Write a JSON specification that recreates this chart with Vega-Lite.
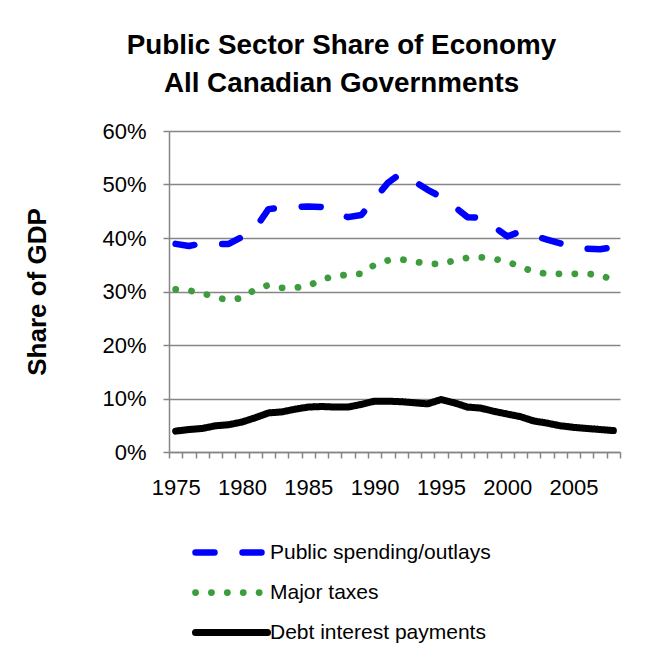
{
  "$schema": "https://vega.github.io/schema/vega-lite/v6.json",
  "width": 451,
  "height": 321,
  "autosize": {"type": "none"},
  "padding": {"left": 169, "top": 131, "right": 50, "bottom": 204},
  "background": "white",
  "title": {
    "text": ["Public Sector Share of Economy", "All Canadian Governments"],
    "font": "Liberation Sans",
    "fontSize": 27.8,
    "fontWeight": "bold",
    "color": "black",
    "lineHeight": 38,
    "anchor": "middle",
    "frame": "group",
    "dx": -53,
    "offset": 22
  },
  "data": {
    "values": [
      {"year": 1975, "Public spending/outlays": 38.9, "Major taxes": 30.4, "Debt interest payments": 3.9},
      {"year": 1976, "Public spending/outlays": 38.5, "Major taxes": 30.2, "Debt interest payments": 4.2},
      {"year": 1977, "Public spending/outlays": 39.0, "Major taxes": 29.7, "Debt interest payments": 4.4},
      {"year": 1978, "Public spending/outlays": 38.9, "Major taxes": 28.9, "Debt interest payments": 4.9},
      {"year": 1979, "Public spending/outlays": 38.9, "Major taxes": 28.4, "Debt interest payments": 5.1},
      {"year": 1980, "Public spending/outlays": 40.2, "Major taxes": 28.8, "Debt interest payments": 5.6},
      {"year": 1981, "Public spending/outlays": 41.8, "Major taxes": 30.4, "Debt interest payments": 6.4},
      {"year": 1982, "Public spending/outlays": 45.4, "Major taxes": 31.2, "Debt interest payments": 7.3},
      {"year": 1983, "Public spending/outlays": 45.7, "Major taxes": 30.7, "Debt interest payments": 7.5},
      {"year": 1984, "Public spending/outlays": 45.8, "Major taxes": 30.7, "Debt interest payments": 8.0},
      {"year": 1985, "Public spending/outlays": 45.9, "Major taxes": 31.0, "Debt interest payments": 8.4},
      {"year": 1986, "Public spending/outlays": 45.8, "Major taxes": 32.3, "Debt interest payments": 8.5},
      {"year": 1987, "Public spending/outlays": 44.7, "Major taxes": 32.8, "Debt interest payments": 8.4},
      {"year": 1988, "Public spending/outlays": 43.9, "Major taxes": 33.2, "Debt interest payments": 8.4},
      {"year": 1989, "Public spending/outlays": 44.3, "Major taxes": 33.3, "Debt interest payments": 8.9},
      {"year": 1990, "Public spending/outlays": 47.3, "Major taxes": 35.0, "Debt interest payments": 9.5},
      {"year": 1991, "Public spending/outlays": 50.3, "Major taxes": 35.8, "Debt interest payments": 9.5},
      {"year": 1992, "Public spending/outlays": 52.1, "Major taxes": 36.0, "Debt interest payments": 9.4},
      {"year": 1993, "Public spending/outlays": 50.6, "Major taxes": 35.6, "Debt interest payments": 9.2},
      {"year": 1994, "Public spending/outlays": 49.0, "Major taxes": 35.2, "Debt interest payments": 9.0},
      {"year": 1995, "Public spending/outlays": 47.7, "Major taxes": 35.1, "Debt interest payments": 9.8},
      {"year": 1996, "Public spending/outlays": 45.9, "Major taxes": 35.8, "Debt interest payments": 9.2},
      {"year": 1997, "Public spending/outlays": 43.9, "Major taxes": 36.3, "Debt interest payments": 8.4},
      {"year": 1998, "Public spending/outlays": 43.8, "Major taxes": 36.4, "Debt interest payments": 8.2},
      {"year": 1999, "Public spending/outlays": 42.1, "Major taxes": 36.1, "Debt interest payments": 7.6},
      {"year": 2000, "Public spending/outlays": 40.3, "Major taxes": 35.6, "Debt interest payments": 7.1},
      {"year": 2001, "Public spending/outlays": 41.2, "Major taxes": 34.6, "Debt interest payments": 6.6},
      {"year": 2002, "Public spending/outlays": 40.4, "Major taxes": 33.7, "Debt interest payments": 5.8},
      {"year": 2003, "Public spending/outlays": 39.7, "Major taxes": 33.3, "Debt interest payments": 5.4},
      {"year": 2004, "Public spending/outlays": 39.0, "Major taxes": 33.3, "Debt interest payments": 4.9},
      {"year": 2005, "Public spending/outlays": 38.1, "Major taxes": 33.3, "Debt interest payments": 4.6},
      {"year": 2006, "Public spending/outlays": 38.0, "Major taxes": 33.3, "Debt interest payments": 4.4},
      {"year": 2007, "Public spending/outlays": 37.9, "Major taxes": 33.1, "Debt interest payments": 4.2},
      {"year": 2008, "Public spending/outlays": 38.3, "Major taxes": 32.1, "Debt interest payments": 4.0}
    ]
  },
  "transform": [
    {"fold": ["Public spending/outlays", "Major taxes", "Debt interest payments"], "as": ["series", "value"]}
  ],
  "mark": {"type": "line", "strokeCap": "round", "strokeJoin": "round"},
  "encoding": {
    "x": {
      "field": "year",
      "type": "quantitative",
      "scale": {"domain": [1974.5, 2008.5], "nice": false, "zero": false},
      "axis": {
        "values": [1974.5, 1975.5, 1976.5, 1977.5, 1978.5, 1979.5, 1980.5, 1981.5, 1982.5, 1983.5, 1984.5, 1985.5, 1986.5, 1987.5, 1988.5, 1989.5, 1990.5, 1991.5, 1992.5, 1993.5, 1994.5, 1995.5, 1996.5, 1997.5, 1998.5, 1999.5, 2000.5, 2001.5, 2002.5, 2003.5, 2004.5, 2005.5, 2006.5, 2007.5, 2008.5],
        "labelExpr": "(datum.value + 0.5) % 5 == 0 ? format(datum.value + 0.5, 'd') : ''",
        "labelOffset": 6.65,
        "grid": false,
        "title": null,
        "tickSize": 6,
        "tickColor": "#868686",
        "tickWidth": 1.5,
        "domainColor": "#868686",
        "domainWidth": 1.5,
        "labelFont": "Liberation Sans",
        "labelFontSize": 22,
        "labelColor": "black",
        "labelPadding": 19,
        "labelOverlap": false,
        "labelBound": false,
        "labelFlush": false
      }
    },
    "y": {
      "field": "value",
      "type": "quantitative",
      "scale": {"domain": [0, 60], "nice": false},
      "axis": {
        "values": [0, 10, 20, 30, 40, 50, 60],
        "labelExpr": "datum.value + '%'",
        "title": "Share of GDP",
        "titleFont": "Liberation Sans",
        "titleFontSize": 26,
        "titleFontWeight": "bold",
        "titleColor": "black",
        "titlePadding": 51,
        "grid": true,
        "gridColor": "#868686",
        "gridWidth": 1.5,
        "tickSize": 6,
        "tickColor": "#868686",
        "tickWidth": 1.5,
        "domainColor": "#868686",
        "domainWidth": 1.5,
        "labelFont": "Liberation Sans",
        "labelFontSize": 22,
        "labelColor": "black",
        "labelPadding": 17
      }
    },
    "color": {
      "field": "series",
      "type": "nominal",
      "scale": {
        "domain": ["Public spending/outlays", "Major taxes", "Debt interest payments"],
        "range": ["#0000ff", "#3d9c3d", "#000000"]
      },
      "legend": {
        "orient": "none",
        "legendX": 47,
        "legendY": 406,
        "title": null,
        "symbolType": "M-3,0H3",
        "symbolSize": 576,
        "labelFont": "Liberation Sans",
        "labelFontSize": 21,
        "labelColor": "black",
        "labelLimit": 400,
        "labelOffset": 23,
        "rowPadding": 11,
        "padding": 0,
        "encode": {"symbols": {"update": {"strokeCap": {"value": "round"}}}}
      }
    },
    "strokeDash": {
      "field": "series",
      "type": "nominal",
      "scale": {
        "domain": ["Public spending/outlays", "Major taxes", "Debt interest payments"],
        "range": [[19, 28], [0.1, 15.8], [1, 0]]
      }
    },
    "strokeWidth": {
      "field": "series",
      "type": "nominal",
      "scale": {
        "domain": ["Public spending/outlays", "Major taxes", "Debt interest payments"],
        "range": [6.5, 7, 8]
      }
    }
  },
  "config": {
    "view": {"stroke": null}
  }
}
